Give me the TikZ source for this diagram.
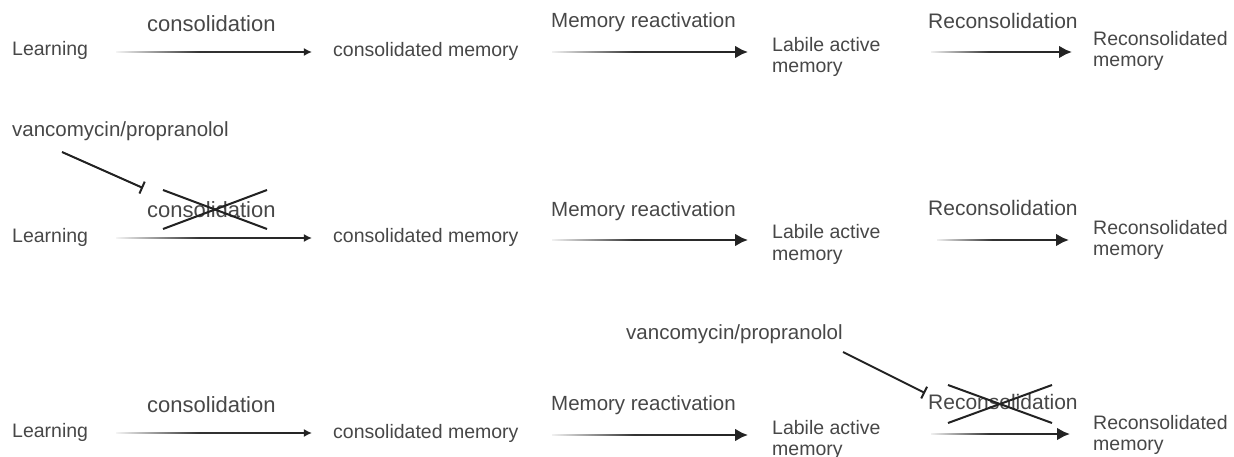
\documentclass[tikz,border=0pt]{standalone}
\usepackage{fontspec}
\setmainfont{Liberation Sans}
\usetikzlibrary{arrows.meta, fadings, calc}
\definecolor{txtgrey}{HTML}{474747}
\definecolor{inkdark}{HTML}{222222}
% light on the left, solid from about 40% on (25bp..75bp is the part that gets fitted)
\pgfdeclarehorizontalshading{fadeshade}{100bp}{color(0bp)=(transparent!96); color(25bp)=(transparent!96); color(46bp)=(transparent!8); color(75bp)=(transparent!0); color(100bp)=(transparent!0)}
\tikzfading[name=fadeline, shading=fadeshade]
\tikzset{
  stage/.style={anchor=base west, inner sep=0pt, text=txtgrey, align=left, font=\fontsize{19.5}{21}\selectfont},
  steplabel/.style={anchor=base west, inner sep=0pt, text=txtgrey, font=\fontsize{21}{24}\selectfont},
  drug/.style={anchor=base west, inner sep=0pt, text=txtgrey, font=\fontsize{20.5}{24}\selectfont},
  % the two moves give the path some height, so the fading covers the line and the tip
  fadeto/.style={to path={(\tikztostart) ++(0,9) ++(0,-18) (\tikztostart) -- (\tikztotarget)}, path fading=fadeline},
  thinarrow/.style={draw=inkdark, line width=1.5pt, -{Latex[length=8pt,width=8pt]}, fadeto},
  thickarrow/.style={draw=inkdark, line width=2.8pt, -{Latex[length=13pt,width=13pt]}, fadeto},
  inhibit/.style={draw=inkdark, line width=2pt, -{Bar[width=13pt]}},
  crossout/.style={draw=inkdark, line width=2pt},
}

\begin{document}
\begin{tikzpicture}[x=1pt, y=-1pt]
\useasboundingbox (0,0) rectangle (1234,457);

% normal course
\node (learn1) [stage] at (12,56) {Learning};
\node (cons1) [stage] at (333,57) {consolidated memory};
\node (lab1) [stage] at (772,73) {Labile active\\memory};
\node (rec1) [stage] at (1093,67) {Reconsolidated\\memory};
\node (clbl1) [steplabel, font=\fontsize{22}{24}\selectfont] at (147,32) {consolidation};
\node (mlbl1) [steplabel, font=\fontsize{20.5}{24}\selectfont] at (551,28) {Memory reactivation};
\node (rlbl1) [steplabel] at (928,29) {Reconsolidation};

\draw [thinarrow] ($(learn1.base east)+(28,-4)$) to ($(learn1.base east -| cons1.west)+(-21,-4)$);
\draw [thickarrow] ($(cons1.base east)+(33,-5)$) to ($(cons1.base east -| lab1.west)+(-24,-5)$);
\draw [thickarrow] ($(lab1.base east)+(50,-21)$) to ($(lab1.base east -| rec1.west)+(-21,-21)$);

% drug given during consolidation
\node (learn2) [stage] at (12,242) {Learning};
\node (cons2) [stage] at (333,243) {consolidated memory};
\node (lab2) [stage] at (772,260) {Labile active\\memory};
\node (rec2) [stage] at (1093,255) {Reconsolidated\\memory};
\node (clbl2) [steplabel, font=\fontsize{22}{24}\selectfont] at (147,218) {consolidation};
\node (mlbl2) [steplabel, font=\fontsize{20.5}{24}\selectfont] at (551,217) {Memory reactivation};
\node (rlbl2) [steplabel] at (928,216) {Reconsolidation};
\node (drug2) [drug] at (12,137) {vancomycin/propranolol};

\draw [thinarrow] ($(learn2.base east)+(28,-4)$) to ($(learn2.base east -| cons2.west)+(-21,-4)$);
\draw [thickarrow] ($(cons2.base east)+(33,-3)$) to ($(cons2.base east -| lab2.west)+(-24,-3)$);
\draw [thickarrow] ($(lab2.base east)+(56,-20)$) to ($(lab2.base east -| rec2.west)+(-24,-20)$);

\draw [inhibit] ($(drug2.base west)+(50,15)$) -- ($(clbl2.base west)+(-4,-30)$);
\draw [crossout] ($(clbl2.base west)+(16,-28)$) -- ($(clbl2.base west)+(120,11)$);
\draw [crossout] ($(clbl2.base west)+(16,11)$) -- ($(clbl2.base west)+(120,-28)$);

% drug given during reconsolidation
\node (learn3) [stage] at (12,437) {Learning};
\node (cons3) [stage] at (333,438) {consolidated memory};
\node (lab3) [stage] at (772,455) {Labile active\\memory};
\node (rec3) [stage] at (1093,450) {Reconsolidated\\memory};
\node (clbl3) [steplabel, font=\fontsize{22}{24}\selectfont] at (147,412) {consolidation};
\node (mlbl3) [steplabel, font=\fontsize{20.5}{24}\selectfont] at (551,410) {Memory reactivation};
\node (rlbl3) [steplabel] at (928,409) {Reconsolidation};
\node (drug3) [drug] at (626,339) {vancomycin/propranolol};

\draw [thinarrow] ($(learn3.base east)+(28,-4)$) to ($(learn3.base east -| cons3.west)+(-21,-4)$);
\draw [thickarrow] ($(cons3.base east)+(33,-3)$) to ($(cons3.base east -| lab3.west)+(-24,-3)$);
\draw [thickarrow] ($(lab3.base east)+(50,-21)$) to ($(lab3.base east -| rec3.west)+(-23,-21)$);

\draw [inhibit] ($(drug3.base west)+(217,13)$) -- ($(rlbl3.base west)+(-3,-16)$);
\draw [crossout] ($(rlbl3.base west)+(20,-24)$) -- ($(rlbl3.base west)+(124,14)$);
\draw [crossout] ($(rlbl3.base west)+(20,14)$) -- ($(rlbl3.base west)+(124,-24)$);

\end{tikzpicture}
\end{document}
